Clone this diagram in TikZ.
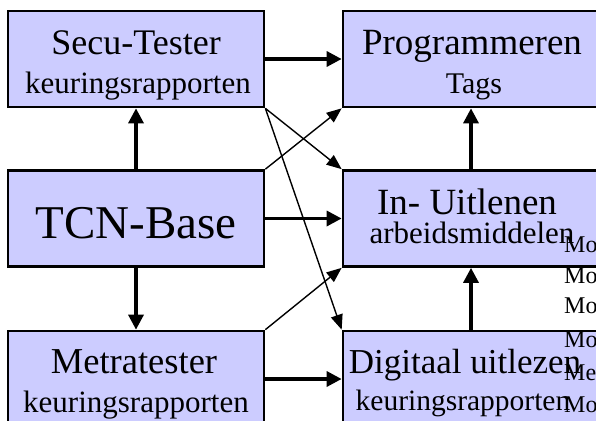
\documentclass[tikz,border=0pt]{standalone}
\usepackage{fontspec}
\setmainfont{Liberation Serif}
\usetikzlibrary{arrows.meta}
\definecolor{boxfill}{HTML}{CCCCFF}
\tikzset{
  box/.style={draw=black, line width=2.7pt, fill=boxfill, minimum width=256pt, minimum height=96pt, inner sep=0pt},
  lbl/.style={anchor=base, inner sep=0pt, text=black},
  sz/.style={font=\fontsize{#1}{#1}\selectfont},
  thickarrow/.style={line width=3.3pt, -{Triangle[length=15pt,width=15pt]}},
  thinarrow/.style={line width=1.4pt, -{Triangle[length=15pt,width=12pt]}},
  stray/.style={anchor=base west, inner sep=0pt, font=\fontsize{24}{24}\selectfont}
}
\begin{document}
\begin{tikzpicture}[x=1pt,y=-1pt]
\clip (0,0) rectangle (596,420);
\fill[white] (0,0) rectangle (596,420);
% boxes
\node[box] (secu)  at (136,59) {};
\node[box] (prog)  at (471,59) {};
\node[box] (tcn)   at (136,218.5) {};
\node[box] (inuit) at (471,218.5) {};
\node[box] (metra) at (136,379) {};
\node[box] (digi)  at (471,379) {};
% labels
\node[lbl,sz=36] (secuA) at (136,55) {Secu-Tester};
\node[lbl,sz=31] (secuB) at (138,93) {keuringsrapporten};
\node[lbl,sz=37] (progA) at (472,55) {Programmeren};
\node[lbl,sz=30] (progB) at (474,93) {Tags};
\node[lbl,sz=47] (tcnA)  at (136,238) {TCN-Base};
\node[lbl,sz=37] (inuitA) at (467,214) {In- Uitlenen};
\node[lbl,sz=31] (inuitB) at (472,243) {arbeidsmiddelen};
\node[lbl,sz=36.5] (metraA) at (134,373) {Metratester};
\node[lbl,sz=31] (metraB) at (136,412) {keuringsrapporten};
\node[lbl,sz=35] (digiA) at (465,373) {Digitaal uitlezen};
\node[lbl,sz=29.5] (digiB) at (463,410) {keuringsrapporten};
% thick arrows
\draw[thickarrow] (secu.east) -- (prog.west);
\draw[thickarrow] (tcn.north) -- (secu.south);
\draw[thickarrow] (tcn.south) -- (metra.north);
\draw[thickarrow] (tcn.east) -- (inuit.west);
\draw[thickarrow] (metra.east) -- (digi.west);
\draw[thickarrow] (inuit.north) -- (prog.south);
\draw[thickarrow] (digi.north) -- (inuit.south);
% thin arrows
\draw[thinarrow] (secu.south east) -- (inuit.north west);
\draw[thinarrow] (secu.south east) -- (digi.north west);
\draw[thinarrow] (tcn.north east) -- (prog.south west);
\draw[thinarrow] (metra.north east) -- (inuit.south west);
% stray texts at right edge
\node[stray] (mo1) at (564,252) {Mo};
\node[stray] (mo2) at (564,283) {Mo};
\node[stray] (mo3) at (564,313) {Mo};
\node[stray] (mo4) at (564,347) {Mo};
\node[stray] (mo5) at (564,380) {Me};
\node[stray] (mo6) at (564,412) {Mo};
\end{tikzpicture}
\end{document}
